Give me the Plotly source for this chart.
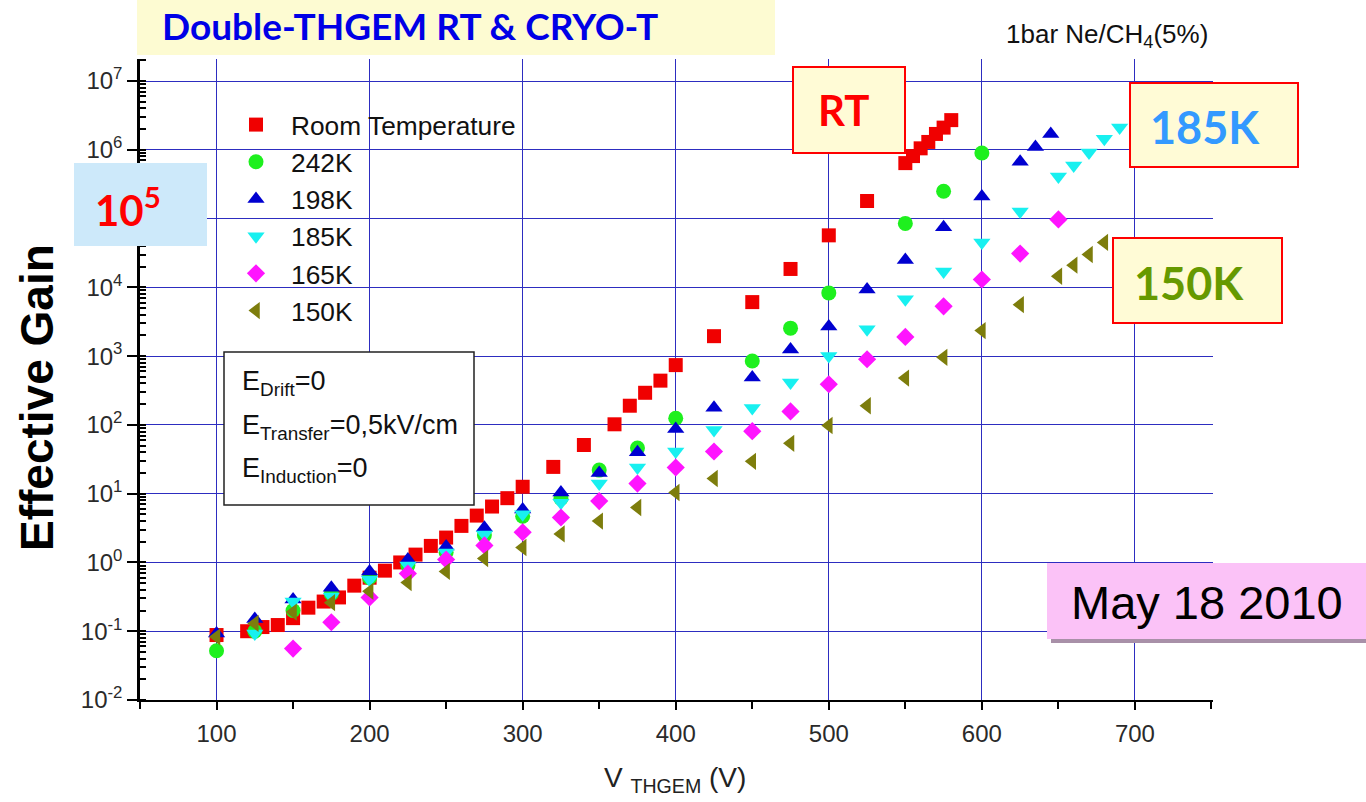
import plotly.graph_objects as go

# ---- measured effective gain vs THGEM voltage (1 bar Ne/CH4 5%) ----
v_rt = [100, 120, 130, 140, 150, 160, 170, 180, 190, 200, 210, 220, 230, 240, 250, 260, 270,
        280, 290, 300, 320, 340, 360, 370, 380, 390, 400, 425, 450, 475, 500, 525, 550,
        555, 560, 565, 570, 575, 580]
g_rt = [0.088, 0.1, 0.115, 0.123, 0.155, 0.22, 0.27, 0.31, 0.46, 0.6, 0.76, 1.0, 1.3, 1.74,
        2.3, 3.4, 4.8, 6.5, 8.6, 12.6, 24.5, 51, 102, 190, 293, 440, 740, 1950, 6100, 18500,
        57000, 1.8e5, 6.4e5, 8.1e5, 1.05e6, 1.3e6, 1.7e6, 2.1e6, 2.7e6]

v_242 = [100, 125, 150, 175, 200, 225, 250, 275, 300, 325, 350, 375, 400, 450, 475, 500,
         550, 575, 600]
g_242 = [0.052, 0.1, 0.2, 0.35, 0.6, 0.9, 1.4, 2.5, 4.7, 8.5, 22, 46, 125, 850, 2550, 8300,
         85000, 2.5e5, 9.0e5]

v_198 = [100, 125, 150, 175, 200, 225, 250, 275, 300, 325, 350, 375, 400, 425, 450, 475,
         500, 525, 550, 575, 600, 625, 635, 645]
g_198 = [0.093, 0.15, 0.29, 0.43, 0.74, 1.1, 1.7, 3.2, 5.9, 10.4, 20, 40, 87, 178, 490,
         1250, 2700, 9300, 25000, 75000, 2.1e5, 6.7e5, 1.1e6, 1.7e6]

v_185 = [125, 150, 175, 200, 225, 250, 275, 300, 325, 350, 375, 400, 425, 450, 475, 500,
         525, 550, 575, 600, 625, 650, 660, 670, 680, 690]
g_185 = [0.093, 0.27, 0.32, 0.56, 0.9, 1.4, 2.55, 5.0, 7.4, 14, 24, 41, 84, 176, 415, 1000,
         2450, 6700, 17000, 45000, 1.27e5, 4.1e5, 5.9e5, 9.1e5, 1.45e6, 2.1e6]

v_165 = [150, 175, 200, 225, 250, 275, 300, 325, 350, 375, 400, 425, 450, 475, 500, 525,
         550, 575, 600, 625, 650]
g_165 = [0.056, 0.135, 0.31, 0.69, 1.1, 1.77, 2.75, 4.5, 7.8, 14, 24, 41, 81, 157, 390, 900,
         1900, 5300, 13000, 31000, 97000]

v_150 = [100, 125, 150, 175, 200, 225, 250, 275, 300, 325, 350, 375, 400, 425, 450, 475,
         500, 525, 550, 575, 600, 625, 650, 660, 670, 680]
g_150 = [0.083, 0.13, 0.19, 0.26, 0.38, 0.51, 0.74, 1.14, 1.65, 2.6, 4.0, 6.3, 10.4, 16.6,
         29.5, 54, 98, 190, 480, 960, 2350, 5600, 14500, 21000, 30000, 45000]

series_names = ["Room Temperature", "242K", "198K", "185K", "165K", "150K"]
x_tick_vals = [100, 200, 300, 400, 500, 600, 700]
y_tick_vals = [1e-2, 1e-1, 1e0, 1e1, 1e2, 1e3, 1e4, 1e5, 1e6, 1e7]
# the 10^5 label sits under the highlighted call-out box, so it is left blank
y_tick_text = ["10<sup>-2</sup>", "10<sup>-1</sup>", "10<sup>0</sup>", "10<sup>1</sup>",
               "10<sup>2</sup>", "10<sup>3</sup>", "10<sup>4</sup>", "",
               "10<sup>6</sup>", "10<sup>7</sup>"]

# ---- figure geometry (pixels) ----
W, H = 1366, 802
ML, MR, MT, MB = 140, 153, 59, 102
PW, PH = W - ML - MR, H - MT - MB


def px(x):
    return (x - ML) / PW


def py(y):
    return (H - MB - y) / PH


ARIAL = "Liberation Sans, Arial"
TICK_FONT = dict(family=ARIAL, size=24, color="#2a2a2a")
GRID = "#2d2dc0"

fig = go.Figure()

styles = [
    (v_rt, g_rt, "square", 14, "#f00000"),
    (v_242, g_242, "circle", 15, "#1ef01e"),
    (v_198, g_198, "triangle-up", 15, "#0000d0"),
    (v_185, g_185, "triangle-down", 15, "#18f0f0"),
    (v_165, g_165, "diamond", 14, "#ff14ff"),
    (v_150, g_150, "triangle-left", 15, "#7d7d0c"),
]
for name, (xs, ys, sym, size, col) in zip(series_names, styles):
    fig.add_trace(go.Scatter(
        x=xs, y=ys, mode="markers", name=name, legendgroup=name,
        marker=dict(symbol=sym, size=size, color=col, line=dict(width=0)),
    ))

fig.update_layout(
    width=W, height=H,
    margin=dict(l=ML, r=MR, t=MT, b=MB, pad=0),
    paper_bgcolor="white", plot_bgcolor="white",
    showlegend=True,
    legend=dict(
        x=px(221), y=py(101), xanchor="left", yanchor="top",
        bgcolor="rgba(0,0,0,0)", borderwidth=0,
        font=dict(family=ARIAL, size=26.3, color="#111111"),
        itemwidth=60, tracegroupgap=0,
    ),
    xaxis=dict(
        range=[50, 751], tickvals=x_tick_vals, ticks="outside", ticklen=8, tickwidth=1.5,
        tickcolor="black", showline=True, linecolor="black", linewidth=2,
        showgrid=True, gridcolor=GRID, gridwidth=1.3, zeroline=False,
        tickfont=TICK_FONT, ticklabelstandoff=3,
        minor=dict(dtick=50, tick0=0, ticks="outside", ticklen=7, tickwidth=1.5,
                   tickcolor="black", showgrid=False),
    ),
    xaxis2=dict(
        overlaying="x", matches="x", side="top", anchor="y", range=[50, 751],
        tickvals=x_tick_vals, ticks="inside", ticklen=8, tickwidth=1.5, tickcolor="black",
        showticklabels=False, showline=True, linecolor="black", linewidth=2,
        showgrid=False, zeroline=False,
        minor=dict(dtick=50, tick0=0, ticks="inside", ticklen=5, tickwidth=1.5,
                   tickcolor="black", showgrid=False),
    ),
    yaxis=dict(
        type="log", range=[-2, 7.32], tickvals=y_tick_vals, ticktext=y_tick_text,
        ticks="outside", ticklen=10, tickwidth=1.5, tickcolor="black",
        showline=True, linecolor="black", linewidth=2.5,
        showgrid=True, gridcolor=GRID, gridwidth=1.3, zeroline=False,
        tickfont=TICK_FONT,
        minor=dict(dtick="D1", ticks="inside", ticklen=6, tickwidth=1.5,
                   tickcolor="black", showgrid=False),
    ),
    yaxis2=dict(
        type="log", overlaying="y", matches="y", side="right", anchor="x",
        range=[-2, 7.32], dtick=1, ticks="inside", ticklen=8, tickwidth=1.5,
        tickcolor="black", showticklabels=False, showline=True, linecolor="black",
        linewidth=2, showgrid=False, zeroline=False,
        minor=dict(dtick="D1", ticks="inside", ticklen=5, tickwidth=1.5,
                   tickcolor="black", showgrid=False),
    ),
)

shapes = []
annots = []


def box(x0, y0, x1, y1, fill, line_col=None, lw=0):
    shapes.append(dict(
        type="rect", xref="paper", yref="paper",
        x0=px(x0), x1=px(x1), y0=py(y1), y1=py(y0),
        fillcolor=fill, line=dict(color=line_col or fill, width=lw), layer="above",
    ))


def label(x, y, text, size, color, family="Lato", bold=False, angle=0, xanchor="center"):
    annots.append(dict(
        xref="paper", yref="paper", x=px(x), y=py(y), text=(f"<b>{text}</b>" if bold else text),
        showarrow=False, xanchor=xanchor, yanchor="middle", textangle=angle,
        font=dict(family=family, size=size, color=color),
    ))


# title banner
box(137, 0, 775, 55, "#fdfbd2")
label(410, 25, "Double-THGEM RT &amp; CRYO-T", 37, "#0000e6", bold=True)

# gas label
label(1107, 36, "1bar Ne/CH<sub>4</sub>(5%)", 26, "#111111", family=ARIAL)

# temperature call-outs
box(793, 67, 905, 153, "#fffbd6", "#ff0000", 2)
label(843, 110, "RT", 42, "#ff0000", bold=True)
box(1130, 83, 1298, 167, "#fffbd6", "#ff0000", 2)
label(1205, 127, "185K", 45, "#3399ff", bold=True)
box(1113, 238, 1282, 323, "#fffbd6", "#ff0000", 2)
label(1189, 283, "150K", 45, "#669900", bold=True)

# decade call-out
box(74, 163, 207, 246, "#cde9fa")
label(128, 207, "10<sup>5</sup>", 42, "#ff0000", bold=True)

# date stamp with drop shadow
box(1051, 567, 1369, 643, "#a890a8")
box(1047, 563, 1366, 639, "#fbc2f7")
label(1207, 602, "May 18 2010", 47, "#000000", family=ARIAL)

# field conditions box
box(224, 352, 474, 505, "white", "#222222", 1.5)
label(240, 383, "E<sub>Drift</sub>=0", 27, "#111111", family=ARIAL, xanchor="left")
label(240, 427, "E<sub>Transfer</sub>=0,5kV/cm", 27, "#111111", family=ARIAL, xanchor="left")
label(240, 470, "E<sub>Induction</sub>=0", 27, "#111111", family=ARIAL, xanchor="left")

# axis titles
label(37, 398, "Effective Gain", 46, "#000000", family=ARIAL, bold=True, angle=-90)
label(675, 779, "V <sub>THGEM</sub> (V)", 28, "#222222", family=ARIAL)

fig.update_layout(shapes=shapes, annotations=annots)
fig.write_html("out.html")
